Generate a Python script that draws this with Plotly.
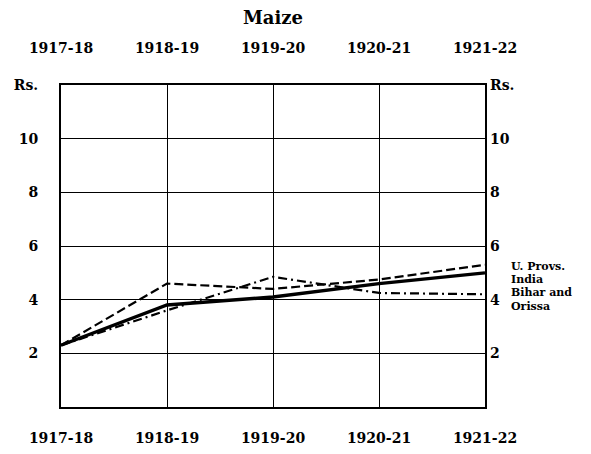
import plotly.graph_objects as go

years = ["1917-18", "1918-19", "1919-20", "1920-21", "1921-22"]
u_provs = [2.3, 4.6, 4.4, 4.75, 5.3]
india = [2.3, 3.8, 4.1, 4.6, 5.0]
bihar_orissa = [2.3, 3.6, 4.85, 4.25, 4.2]

y_ticks = [2, 4, 6, 8, 10, 12]
y_ticktext = ["2", "4", "6", "8", "10", "Rs."]
legend_labels = ["U. Provs.", "India", "Bihar and", "Orissa"]

xpos = list(range(len(years)))
FONT = "DejaVu Serif"
year_txt = ["<b>" + t + "</b>" for t in years]
y_txt = ["<b>" + t + "</b>" for t in y_ticktext]

fig = go.Figure()
fig.add_trace(go.Scatter(x=xpos, y=u_provs, mode="lines", name="U. Provs.",
                         line=dict(color="black", width=2.2, dash="9px,4px")))
fig.add_trace(go.Scatter(x=xpos, y=india, mode="lines", name="India",
                         line=dict(color="black", width=3.4)))
fig.add_trace(go.Scatter(x=xpos, y=bihar_orissa, mode="lines", name="Bihar and Orissa",
                         line=dict(color="black", width=2.2, dash="9px,4px,2px,4px")))
# dummy trace for the mirrored axes (top and right labels)
fig.add_trace(go.Scatter(x=[None], y=[None], xaxis="x2", yaxis="y2",
                         showlegend=False, hoverinfo="skip"))

tickfont = dict(family=FONT, size=14, color="black")
axis_common = dict(showline=True, linecolor="black", linewidth=2, mirror=True,
                   showgrid=True, gridcolor="black", gridwidth=1.3,
                   zeroline=False, ticks="", automargin=False, tickfont=tickfont)

# page has an 8px body margin, so the figure is offset by (8, 8)
fig.update_layout(
    width=591, height=454,
    margin=dict(l=53, r=114, t=77, b=55),
    paper_bgcolor="white", plot_bgcolor="white",
    showlegend=False,
    title=dict(text="<b>Maize</b>", x=265 / 591, xanchor="center",
               y=1 - 3 / 454, yanchor="top", pad=dict(t=0, b=0),
               font=dict(family=FONT, size=18, color="black")),
    xaxis=dict(range=[0, 4], tickvals=xpos, ticktext=year_txt,
               ticklabelstandoff=17, **axis_common),
    yaxis=dict(range=[0, 12], tickvals=y_ticks, ticktext=y_txt,
               ticklabelstandoff=18, **axis_common),
    xaxis2=dict(range=[0, 4], tickvals=xpos, ticktext=year_txt, overlaying="x",
                side="top", showline=False, showgrid=False, zeroline=False,
                ticks="", ticklabelstandoff=28, automargin=False, tickfont=tickfont),
    yaxis2=dict(range=[0, 12], tickvals=y_ticks, ticktext=y_txt,
                overlaying="y", side="right", showline=False, showgrid=False,
                zeroline=False, ticks="", ticklabelstandoff=4, automargin=False,
                tickfont=tickfont),
)

label_y = [5.25, 4.75, 4.25, 3.75]
for txt, yv in zip(legend_labels, label_y):
    fig.add_annotation(x=1.057, xref="paper", y=yv, yref="y", text="<b>" + txt + "</b>",
                       showarrow=False, xanchor="left", yanchor="middle",
                       font=dict(family=FONT, size=11, color="black"))

fig.write_html("out.html")
